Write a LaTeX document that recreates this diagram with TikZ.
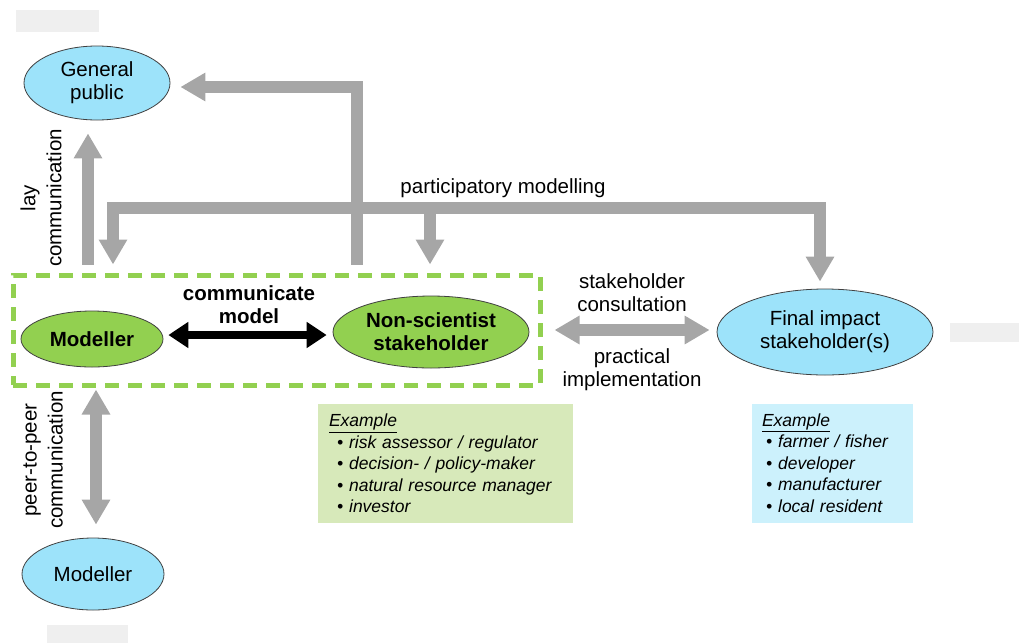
\documentclass[tikz,border=0pt]{standalone}
\usepackage{fontspec}
\setmainfont{Liberation Sans}
\usetikzlibrary{shapes.geometric, arrows.meta}
\definecolor{skyfill}{HTML}{9DE3FA}
\definecolor{leafgreen}{HTML}{92D050}
\definecolor{edgegray}{HTML}{404040}
\definecolor{flowgray}{HTML}{A6A6A6}
\definecolor{greenpale}{HTML}{D7E9BA}
\definecolor{bluepale}{HTML}{CCF1FC}
\definecolor{ghost}{HTML}{EFEFEF}

\begin{document}
\begin{tikzpicture}[x=1pt, y=-1pt,
  lbl/.style={align=center, inner sep=0pt, font=\fontsize{20.5}{23}\selectfont},
  sidelbl/.style={lbl, rotate=90, font=\fontsize{20.5}{26}\selectfont},
  pubnode/.style={ellipse, draw=edgegray, line width=0.8pt, fill=skyfill, inner sep=0pt, align=center, font=\fontsize{20.5}{23}\selectfont},
  teamnode/.style={pubnode, fill=leafgreen, font=\fontsize{20.5}{23}\selectfont\bfseries},
  flow/.style={draw=flowgray, line width=12pt, line join=miter, -{Triangle[width=27pt,length=25pt]}},
  flowboth/.style={flow, {Triangle[width=27pt,length=25pt]}-{Triangle[width=27pt,length=25pt]}},
  talk/.style={draw=black, line width=8pt, {Triangle[width=25pt,length=20pt]}-{Triangle[width=25pt,length=20pt]}},
  exbox/.style={align=left, inner ysep=0pt, minimum height=119pt, font=\fontsize{17.5}{21.5}\selectfont\itshape}]
\useasboundingbox (0,0) rectangle (1019,643);

\fill[ghost] (16,10) rectangle (99,32);
\fill[ghost] (950,323) rectangle (1019,342);
\fill[ghost] (47,625) rectangle (128,643);

\node[pubnode, minimum width=146pt, minimum height=74pt] (gp) at (97,83) {General\\public};
\node[pubnode, minimum width=142pt, minimum height=72pt] (peer) at (93,574) {Modeller};
\node[pubnode, minimum width=216pt, minimum height=86pt] (fis) at (825,332) {Final impact\\stakeholder(s)};
\node[draw=leafgreen, line width=5pt, dash pattern=on 14pt off 9pt, minimum width=527pt, minimum height=110pt, inner sep=0pt] (team) at (276.5,330) {};
\node[teamnode, minimum width=142pt, minimum height=56pt] (mod) at (92,339) {Modeller};
\node[teamnode, minimum width=196pt, minimum height=72pt] (nss) at (431,332) {Non-scientist\\stakeholder};

% lay communication
\draw[flow, shorten <=8pt, shorten >=13pt] (team.north -| 88,0) -- (gp.south -| 88,0);
\node[sidelbl] (laylbl) at (41,198) {lay\\communication};

% participatory modelling
\draw[flowboth, shorten <=8pt, shorten >=7pt] (team.north -| 113,0) |- (820,208) -- (fis.north -| 820,0);
\coordinate (pm) at (430,208);
\draw[flow, shorten >=8pt] (pm) -- (team.north -| pm);
\node[lbl] (pmlbl) at (503,188) {participatory modelling};

\draw[flow, shorten <=8pt, shorten >=10pt] (team.north -| 357,0) |- ([yshift=-4pt]gp.east);

% peer-to-peer communication
\draw[flowboth, shorten <=2pt, shorten >=13pt] (team.south -| 96,0) -- (peer.north -| 96,0);
\node[sidelbl] (peerlbl) at (43,460) {peer-to-peer\\communication};

% stakeholder consultation
\draw[flowboth, shorten <=12pt, shorten >=7pt] (team.east) -- (team.east -| fis.west);
\node[lbl] (conslbl) at (632,293) {stakeholder\\consultation};
\node[lbl] (impllbl) at (632,370) {practical\\implementation};

\draw[talk, shorten <=5pt, shorten >=6pt] (mod.east |- 0,335) -- (nss.west |- 0,335);
\node[lbl, font=\fontsize{20.5}{23}\selectfont\bfseries] (talklbl) at (249,305) {communicate\\model};

\node[exbox, fill=greenpale, text width=233pt, inner xsep=11pt] (nssex) at (445.5,463.5) {\underline{Example}\\
\hspace*{8pt}\textbullet\hspace{6pt}risk assessor / regulator\\
\hspace*{8pt}\textbullet\hspace{6pt}decision- / policy-maker\\
\hspace*{8pt}\textbullet\hspace{6pt}natural resource manager\\
\hspace*{8pt}\textbullet\hspace{6pt}investor};
\node[exbox, fill=bluepale, text width=141pt, inner xsep=10pt] (fisex) at (832.5,463) {\underline{Example}\\
\hspace*{4pt}\textbullet\hspace{6pt}farmer / fisher\\
\hspace*{4pt}\textbullet\hspace{6pt}developer\\
\hspace*{4pt}\textbullet\hspace{6pt}manufacturer\\
\hspace*{4pt}\textbullet\hspace{6pt}local resident};
\end{tikzpicture}
\end{document}
